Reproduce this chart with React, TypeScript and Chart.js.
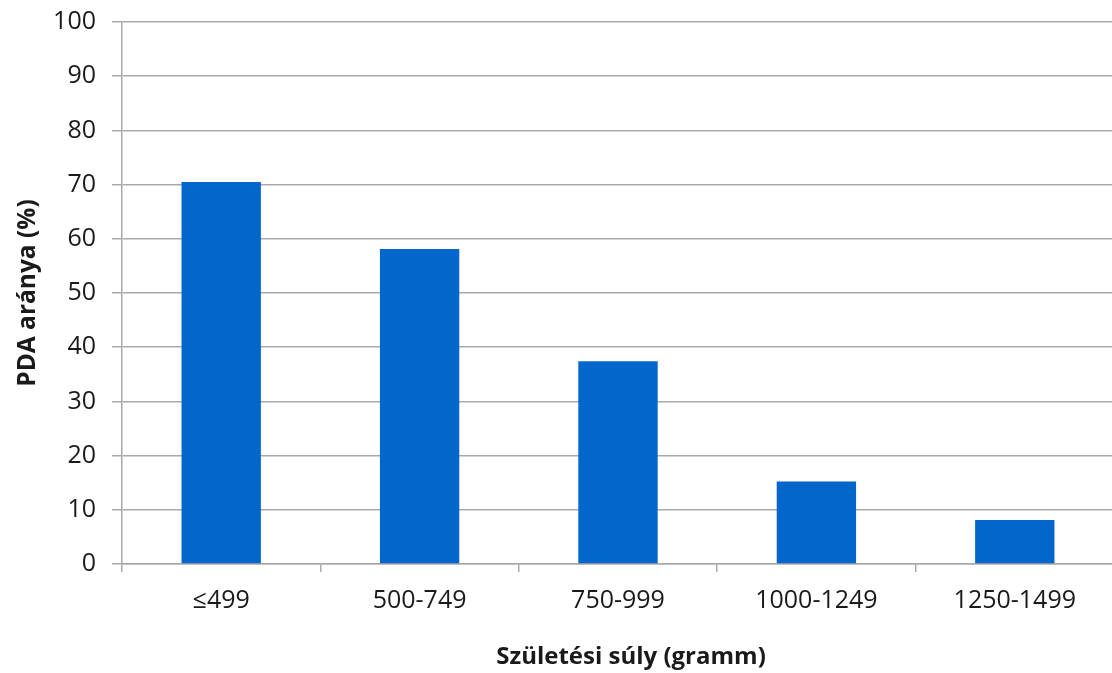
import React, { useEffect, useRef } from "react";
import { Chart, registerables } from "chart.js";

Chart.register(...registerables);

const categories: string[] = ["≤499", "500-749", "750-999", "1000-1249", "1250-1499"];
const pdaRates: number[] = [70.5, 58.1, 37.4, 15.2, 8.1];
const yTitle = "PDA aránya (%)";
const xTitle = "Születési súly (gramm)";

const GRID = "#A9A9A9";
const FONT = "'Open Sans', 'Noto Sans', sans-serif";

const xTitlePlugin = {
  id: "xTitlePlugin",
  afterDraw(chart: any) {
    const ctx = chart.ctx;
    const area = chart.chartArea;
    ctx.save();
    ctx.font = `bold 24px ${FONT}`;
    ctx.fillStyle = "#1a1a1a";
    ctx.textAlign = "center";
    ctx.textBaseline = "alphabetic";
    ctx.fillText(xTitle, (area.left + area.right) / 2 + 13, 664);
    ctx.restore();
  },
};

export default function App() {
  const ref = useRef<HTMLCanvasElement | null>(null);
  useEffect(() => {
    if (!ref.current) return;
    const chart = new Chart(ref.current, {
      type: "bar",
      data: {
        labels: categories,
        datasets: [
          {
            data: pdaRates,
            backgroundColor: "#0366CC",
            borderWidth: 0,
            categoryPercentage: 1,
            barPercentage: 0.4,
          },
        ],
      },
      options: {
        animation: false,
        responsive: false,
        maintainAspectRatio: false,
        layout: { padding: { top: 22, right: 6, left: 0, bottom: 0 } },
        plugins: { legend: { display: false }, tooltip: { enabled: false } },
        scales: {
          x: {
            offset: true,
            grid: {
              offset: true,
              drawOnChartArea: false,
              drawTicks: true,
              tickLength: 8,
              color: GRID,
              lineWidth: 1.5,
            },
            border: { color: GRID, width: 1.5 },
            ticks: { color: "#1a1a1a", font: { family: FONT, size: 25 }, padding: 14 },
            afterFit: (scale: any) => {
              scale.height = 109;
              scale.paddingLeft = 0;
              scale.paddingRight = 0;
            },
          },
          y: {
            min: 0,
            max: 100,
            ticks: { stepSize: 10, color: "#1a1a1a", font: { family: FONT, size: 25 }, padding: 16 },
            grid: { color: GRID, lineWidth: 1.5, tickLength: 10 },
            border: { color: GRID, width: 1.5 },
            title: {
              display: true,
              text: yTitle,
              color: "#1a1a1a",
              font: { family: FONT, size: 24.5, weight: "bold" },
              padding: { top: 13, bottom: 0 },
            },
            afterFit: (scale: any) => {
              scale.width = 122;
              scale.paddingTop = 0;
              scale.paddingBottom = 0;
            },
          },
        },
      },
      plugins: [xTitlePlugin],
    });
    return () => chart.destroy();
  }, []);
  return (
    <div style={{ position: "fixed", left: 0, top: 0, width: 1120, height: 673, background: "#fff" }}>
      <canvas ref={ref} width={1120} height={673} />
    </div>
  );
}
